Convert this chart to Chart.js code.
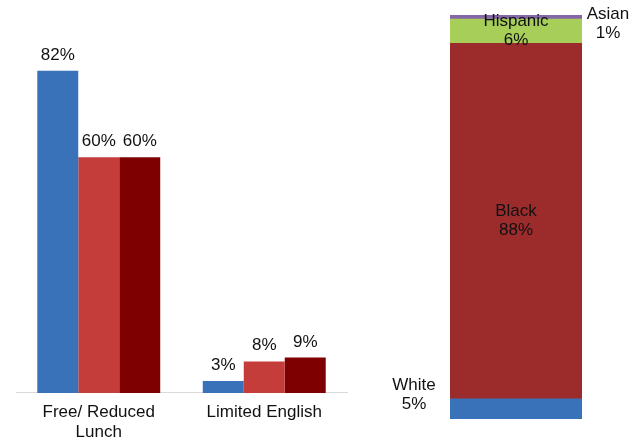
<!DOCTYPE html>
<html>
<head>
<meta charset="utf-8">
<script src="https://cdn.jsdelivr.net/npm/chart.js@4.4.1/dist/chart.umd.min.js"></script>
<style>
  html, body { margin: 0; padding: 0; background: #fff; }
  body { width: 641px; height: 442px; position: relative; overflow: hidden; }
  #left { position: absolute; left: 0; top: 0; width: 360px; height: 452px; }
  #right { position: absolute; left: 370px; top: 0; width: 271px; height: 442px; }
</style>
</head>
<body>
<div id="left"><canvas id="leftChart"></canvas></div>
<div id="right"><canvas id="rightChart"></canvas></div>
<script>
// left chart data
const categories = [["Free/ Reduced", "Lunch"], "Limited English"]
const schoolValues = [82, 3]
const districtValues = [60, 8]
const stateValues = [60, 9]

// right chart data (bottom to top)
const groups = ["White", "Black", "Hispanic", "Asian"]
const groupValues = [5, 88, 6, 1]

const FONT = "'Liberation Sans', Arial, sans-serif"

// draws "NN%" above each bar
const valueLabels = {
  id: "valueLabels",
  afterDatasetsDraw(chart) {
    const ctx = chart.ctx
    ctx.save()
    ctx.font = "17px " + FONT
    ctx.fillStyle = "#111"
    ctx.textAlign = "center"
    ctx.textBaseline = "alphabetic"
    chart.data.datasets.forEach((ds, i) => {
      chart.getDatasetMeta(i).data.forEach((bar, j) => {
        ctx.fillText(ds.data[j] + "%", bar.x, bar.y - 11)
      })
    })
    ctx.restore()
  }
}

// draws "Name / NN%" for each stacked segment
const segmentLabels = {
  id: "segmentLabels",
  afterDatasetsDraw(chart) {
    const ctx = chart.ctx
    ctx.save()
    ctx.font = "17px " + FONT
    ctx.fillStyle = "#111"
    ctx.textAlign = "center"
    ctx.textBaseline = "middle"
    chart.data.datasets.forEach((ds, i) => {
      const bar = chart.getDatasetMeta(i).data[0]
      const mid = (bar.y + bar.base) / 2
      var x = bar.x
      var y = mid
      if (ds.labelPos == "right") {
        x = bar.x + bar.width / 2 + 26
        y = mid + 7
      } else if (ds.labelPos == "left") {
        x = bar.x - bar.width / 2 - 36
        y = mid - 14
      }
      ctx.fillText(ds.label, x, y - 9.5)
      ctx.fillText(ds.data[0] + "%", x, y + 9.5)
    })
    ctx.restore()
  }
}

new Chart(document.getElementById("leftChart"), {
  type: "bar",
  data: {
    labels: categories,
    datasets: [
      { label: "School", data: schoolValues, backgroundColor: "#3A72B9" },
      { label: "District", data: districtValues, backgroundColor: "#C43D3B" },
      { label: "State", data: stateValues, backgroundColor: "#7F0000" }
    ]
  },
  options: {
    responsive: true,
    maintainAspectRatio: false,
    animation: false,
    layout: { padding: { left: 16, right: 13, top: 0, bottom: 0 } },
    datasets: { bar: { categoryPercentage: 0.743, barPercentage: 1 } },
    plugins: { legend: { display: false }, tooltip: { enabled: false } },
    scales: {
      x: {
        grid: { display: false, drawTicks: false },
        border: { display: true, color: "#d9d9d9", width: 1 },
        ticks: { color: "#111", padding: 10, font: { family: FONT, size: 17, lineHeight: 1.15 } }
      },
      y: { display: false, min: 0, max: 100 }
    }
  },
  plugins: [valueLabels]
})

const segColors = ["#3A72B9", "#9C2C2C", "#A6CE58", "#8467A6"]
const segPos = ["left", "inside", "inside", "right"]

new Chart(document.getElementById("rightChart"), {
  type: "bar",
  data: {
    labels: [""],
    datasets: groups.map((g, i) => ({
      label: g,
      data: [groupValues[i]],
      backgroundColor: segColors[i],
      labelPos: segPos[i]
    }))
  },
  options: {
    responsive: true,
    maintainAspectRatio: false,
    animation: false,
    layout: { padding: { left: 80, right: 59, top: 15, bottom: 23 } },
    datasets: { bar: { categoryPercentage: 1, barPercentage: 1 } },
    plugins: { legend: { display: false }, tooltip: { enabled: false } },
    scales: {
      x: { display: false, stacked: true },
      y: { display: false, stacked: true, min: 0, max: 100 }
    }
  },
  plugins: [segmentLabels]
})
</script>
</body>
</html>
